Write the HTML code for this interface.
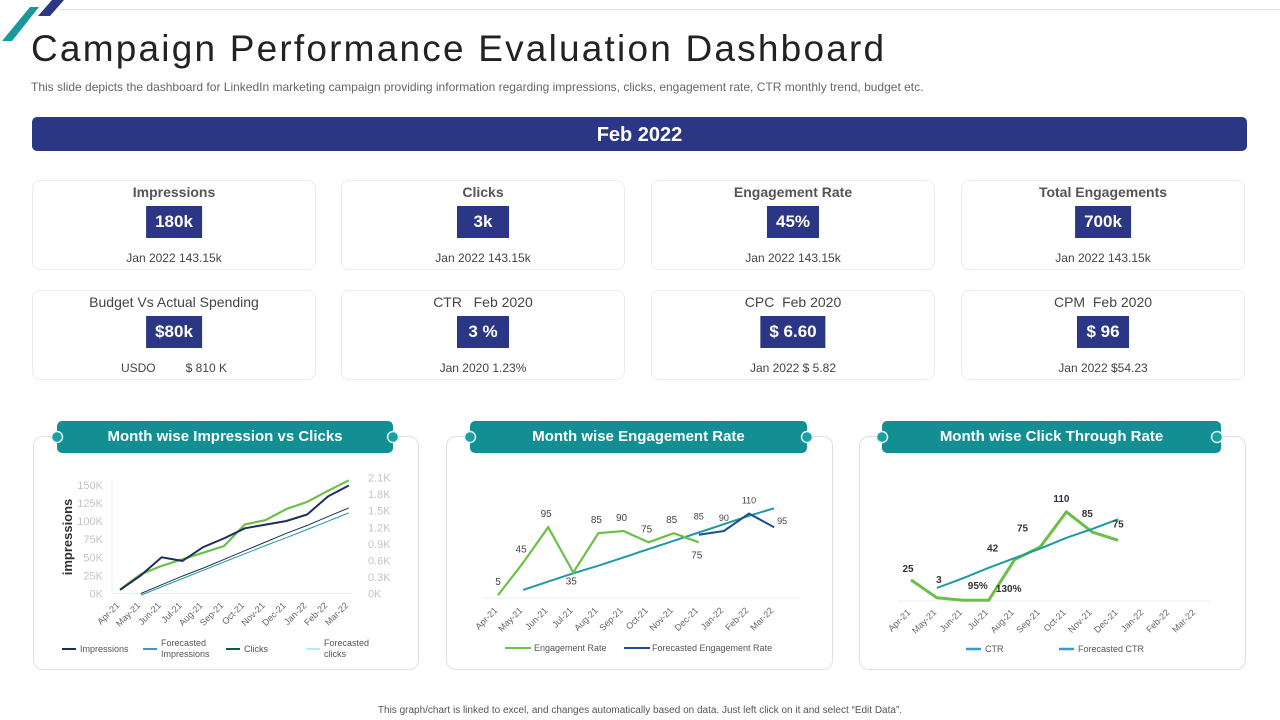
<!DOCTYPE html>
<html><head><meta charset="utf-8">
<style>
*{margin:0;padding:0;box-sizing:border-box}
body{width:1280px;height:720px;background:#fff;position:relative;overflow:hidden;font-family:"Liberation Sans",sans-serif;color:#333}
.abs{position:absolute}
.title{left:31px;top:28px;font-size:37px;color:#222;letter-spacing:2.2px;white-space:nowrap}
.sub{left:31px;top:80px;font-size:12px;color:#666;white-space:nowrap;letter-spacing:0px}
.banner{left:32px;top:117px;width:1215px;height:34px;background:#2b3784;border-radius:5px;color:#fff;font-weight:bold;font-size:20px;text-align:center;line-height:36px}
.card{width:284px;height:90px;border:1px solid #ececec;border-radius:8px;text-align:center}
.card .t{position:absolute;left:0;right:0;top:3px;font-size:14px;color:#444}
.card .t.b{font-weight:bold;color:#555}
.card .v{position:absolute;left:50%;transform:translateX(-50%);top:25px;height:32px;padding:0 9px;min-width:52px;background:#2b3784;color:#fff;font-weight:bold;font-size:17px;line-height:32px}
.card .s{position:absolute;left:0;right:0;top:70px;font-size:12px;color:#444}
.panel{border:1px solid #e0e0e0;border-radius:10px;height:234px;top:436px}
.hdr{height:32px;top:421px;background:#138f93;border-radius:5px;color:#fff;font-weight:bold;font-size:15px;text-align:center;line-height:32px}
.foot{left:0;width:1280px;top:705px;text-align:center;font-size:10px;color:#555}
</style></head><body>
<svg class="abs" style="left:0;top:0" width="1280" height="50">
<line x1="60" y1="9.5" x2="1280" y2="9.5" stroke="#ddd" stroke-width="1"/>
<polygon points="30,7 39,7 12,41 2,41" fill="#18999b"/>
<polygon points="52,0 64,0 50,16 38,16" fill="#2b3784"/>
</svg>
<div class="abs title">Campaign Performance Evaluation Dashboard</div>
<div class="abs sub">This slide depicts the dashboard for LinkedIn marketing campaign providing information regarding impressions, clicks, engagement rate, CTR monthly trend, budget etc.</div>
<div class="abs banner">Feb 2022</div>

<div class="abs card" style="left:32px;top:180px"><div class="t b">Impressions</div><div class="v">180k</div><div class="s">Jan 2022 143.15k</div></div>
<div class="abs card" style="left:341px;top:180px"><div class="t b">Clicks</div><div class="v">3k</div><div class="s">Jan 2022 143.15k</div></div>
<div class="abs card" style="left:651px;top:180px"><div class="t b">Engagement Rate</div><div class="v">45%</div><div class="s">Jan 2022 143.15k</div></div>
<div class="abs card" style="left:961px;top:180px"><div class="t b">Total Engagements</div><div class="v">700k</div><div class="s">Jan 2022 143.15k</div></div>
<div class="abs card" style="left:32px;top:290px"><div class="t">Budget Vs Actual Spending</div><div class="v">$80k</div><div class="s">USDO &nbsp; &nbsp; &nbsp; &nbsp; $ 810 K</div></div>
<div class="abs card" style="left:341px;top:290px"><div class="t">CTR &nbsp; Feb 2020</div><div class="v">3 %</div><div class="s">Jan 2020 1.23%</div></div>
<div class="abs card" style="left:651px;top:290px"><div class="t">CPC &nbsp;Feb 2020</div><div class="v">$ 6.60</div><div class="s">Jan 2022 $ 5.82</div></div>
<div class="abs card" style="left:961px;top:290px"><div class="t">CPM &nbsp;Feb 2020</div><div class="v">$ 96</div><div class="s">Jan 2022 $54.23</div></div>

<div class="abs panel" style="left:33px;width:386px"></div>
<div class="abs panel" style="left:446px;width:387px"></div>
<div class="abs panel" style="left:859px;width:387px"></div>
<div class="abs hdr" style="left:57px;width:336px">Month wise Impression vs Clicks</div>
<div class="abs hdr" style="left:470px;width:337px">Month wise Engagement Rate</div>
<div class="abs hdr" style="left:882px;width:339px">Month wise Click Through Rate</div>

<svg id="charts" class="abs" style="left:0;top:0" width="1280" height="720"></svg>

<div class="abs foot">This graph/chart is linked to excel, and changes automatically based on data. Just left click on it and select “Edit Data”.</div>

<script>
const months = ["Apr-21","May-21","Jun-21","Jul-21","Aug-21","Sep-21","Oct-21","Nov-21","Dec-21","Jan-22","Feb-22","Mar-22"];
const leftTicks = ["0K","25K","50K","75K","100K","125K","150K"];
const rightTicks = ["0K","0.3K","0.6K","0.9K","1.2K","1.5K","1.8K","2.1K"];
const impressions = [5,25,50,45,64,76,90,95,100,109,134,149];
const clicks = [0.07,0.35,0.5,0.62,0.74,0.86,1.25,1.33,1.53,1.66,1.86,2.05];
const forecastImpr = [null,0,12,24,35,47,59,71,83,94,106,118];
const forecastClicks = [null,-0.03,0.12,0.27,0.42,0.57,0.72,0.87,1.01,1.16,1.31,1.46];
const engagement = [5,48,95,35,87,90,75,87,75,null,null,null];
const engagementLabels = ["5","45","95","35","85","90","75","85","75","","",""];
const forecastEng = [null,null,null,null,null,null,null,null,85,90,113,95];
const forecastEngLabels = ["","","","","","","","","85","90","110","95"];
const engTrend = [null,12,23,34,44,55,66,77,88,99,110,120];
const ctr = [26,4,1,1,51,67,110,85,75,null,null,null];
const ctrLabels = ["25","3","95%","130%","42","75","110","85","75","","",""];
const ctrTrend = [null,16,28,41,53,65,78,89,101,null,null,null];

const NS="http://www.w3.org/2000/svg";
const svg=document.getElementById('charts');
function mk(tag,attrs,parent){const e=document.createElementNS(NS,tag);for(const k in attrs)e.setAttribute(k,attrs[k]);(parent||svg).appendChild(e);return e;}
function txt(x,y,s,attrs,parent){const t=mk('text',Object.assign({x:x,y:y,'font-family':'Liberation Sans, sans-serif'},attrs),parent);t.textContent=s;return t;}
function linePath(vals,xf,yf){let d='';vals.forEach((v,i)=>{if(v===null)return;d+=(d===''?'M':'L')+xf(i).toFixed(1)+','+yf(v).toFixed(1)+' ';});return d;}
function xLabels(g,xf,y){months.forEach((m,i)=>{const t=txt(xf(i),y,m,{'font-size':9,fill:'#666','text-anchor':'end',transform:'rotate(-45 '+xf(i)+' '+y+')'},g);});}

// chart 1
(function(){
 const g=mk('g',{});
 const x=i=>120+i*20.8, yL=v=>593.5-v*0.725, yR=v=>593.5-v*55.2;
 mk('line',{x1:112,y1:593.5,x2:352,y2:593.5,stroke:'#e6eef0'},g);
 mk('line',{x1:112,y1:478,x2:112,y2:593.5,stroke:'#eef3f4'},g);
 leftTicks.forEach((t,i)=>{const e=txt(103,yL(i*25)+4,t,{'font-size':11,fill:'#c4c4c4','text-anchor':'end'},g);});
 rightTicks.forEach((t,i)=>{const e=txt(368,yR(i*0.3)+4,t,{'font-size':11,fill:'#c4c4c4'},g);});
 const yt=txt(72,537,'impressions',{'font-size':13,'font-weight':'bold',fill:'#333','text-anchor':'middle',transform:'rotate(-90 72 537)'},g);
 
 let p=mk('path',{d:linePath(forecastImpr,x,yL),fill:'none',stroke:'#1f2d5c','stroke-width':1},g);
 p=mk('path',{d:linePath(forecastClicks,x,yR),fill:'none',stroke:'#1e9aa0','stroke-width':1},g);
 p=mk('path',{d:linePath(clicks,x,yR),fill:'none',stroke:'#6cc04a','stroke-width':2.2},g);
 p=mk('path',{d:linePath(impressions,x,yL),fill:'none',stroke:'#1f2d5c','stroke-width':2},g);
 xLabels(g,x,606);
 const leg=[[62,'#1f2d5c',['Impressions']],[143,'#4a90d0',['Forecasted','Impressions']],[226,'#0d5c4a',['Clicks']],[306,'#b8eaf0',['Forecasted','clicks']]];
 leg.forEach(l=>{const lg=mk('g',{},g);
  mk('line',{x1:l[0],y1:649,x2:l[0]+14,y2:649,stroke:l[1],'stroke-width':2},lg);
  l[2].forEach((s,k)=>txt(l[0]+18,l[2].length>1?648+k*11-2:652,s,{'font-size':9,fill:'#555'},lg));});
})();

// chart 2
(function(){
 const g=mk('g',{});
 const x=i=>498+i*25.1, y=v=>599-v*0.756;
 mk('line',{x1:482,y1:598,x2:800,y2:598,stroke:'#eeeeee'},g);
 let p=mk('path',{d:linePath(engTrend,x,y),fill:'none',stroke:'#1e9aa0','stroke-width':2},g);
 p=mk('path',{d:linePath(engagement,x,y),fill:'none',stroke:'#6cc04a','stroke-width':2.2},g);
 p=mk('path',{d:linePath(forecastEng,x,y),fill:'none',stroke:'#1f4e8c','stroke-width':2},g);
 engagement.forEach((v,i)=>{if(v===null)return;const below=(i===3||i===8);const e=txt(x(i)-(i===0?0:2),below?y(v)+12:y(v)-10,engagementLabels[i],{'font-size':10,fill:'#444','text-anchor':'middle'},g);if(i===8){e.setAttribute('y',y(v)+16);e.setAttribute('x',x(i)-2);}});
 forecastEng.forEach((v,i)=>{if(v===null)return;let dx=0,dy=-10;if(i===8){dy=-15;}if(i===11){dx=8;dy=-3;}const e=txt(x(i)+dx,y(v)+dy,forecastEngLabels[i],{'font-size':9,fill:'#444','text-anchor':'middle'},g);});
 xLabels(g,x,611);
 let lg=mk('g',{},g);
 mk('line',{x1:505,y1:648,x2:531,y2:648,stroke:'#6cc04a','stroke-width':2},lg);txt(534,651,'Engagement Rate',{'font-size':9,fill:'#555'},lg);
 lg=mk('g',{},g);
 mk('line',{x1:624,y1:648,x2:650,y2:648,stroke:'#1f4e8c','stroke-width':2},lg);txt(652,651,'Forecasted Engagement Rate',{'font-size':9,fill:'#555'},lg);
})();

// chart 3
(function(){
 const g=mk('g',{});
 const x=i=>911+i*25.9, y=v=>601-v*0.81;
 mk('line',{x1:898,y1:601,x2:1210,y2:601,stroke:'#eeeeee'},g);
 let p=mk('path',{d:linePath(ctr,x,y),fill:'none',stroke:'#6cc04a','stroke-width':3},g);
 p=mk('path',{d:linePath(ctrTrend,x,y),fill:'none',stroke:'#1e9aa0','stroke-width':2},g);
 const off=[[-3,-8],[2,-15],[15,-11],[20,-8],[-22,-8],[-18,-15],[-5,-10],[-5,-15],[0,-13]];
 ctr.forEach((v,i)=>{if(v===null)return;const e=txt(x(i)+off[i][0],y(v)+off[i][1],ctrLabels[i],{'font-size':10,'font-weight':'bold',fill:'#333','text-anchor':'middle'},g);});
 xLabels(g,x,613);
 let lg=mk('g',{},g);
 mk('line',{x1:966,y1:649,x2:981,y2:649,stroke:'#3a9ad0','stroke-width':2.5},lg);txt(985,652,'CTR',{'font-size':9,fill:'#555'},lg);
 lg=mk('g',{},g);
 mk('line',{x1:1059,y1:649,x2:1074,y2:649,stroke:'#3a9ad0','stroke-width':2.5},lg);txt(1078,652,'Forecasted CTR',{'font-size':9,fill:'#555'},lg);
})();

// header end circles
[[57,437],[393,437],[470,437],[807,437],[882,437],[1217,437]].forEach(c=>{const e=mk('circle',{cx:c[0],cy:c[1],r:5.5,fill:'#1aa0a4',stroke:'#e0f4f4','stroke-width':1.5});});
</script>
</body></html>
